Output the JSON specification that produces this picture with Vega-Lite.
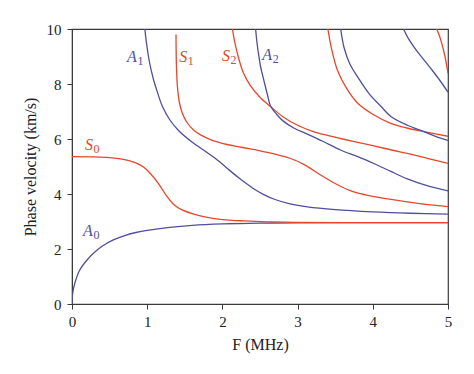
{
  "$schema": "https://vega.github.io/schema/vega-lite/v6.json",
  "width": 376,
  "height": 275,
  "autosize": "none",
  "padding": {"left": 72, "top": 29, "right": 26, "bottom": 70},
  "background": "white",
  "config": {
    "view": {"stroke": "#3a3a3a", "strokeWidth": 1.2},
    "font": "Times New Roman, Liberation Serif, serif",
    "axis": {
      "domainColor": "#3a3a3a",
      "tickColor": "#3a3a3a",
      "labelFont": "Times New Roman, Liberation Serif, serif",
      "labelFontSize": 15,
      "labelColor": "#222",
      "titleFont": "Times New Roman, Liberation Serif, serif",
      "titleFontSize": 16,
      "titleFontWeight": "normal",
      "titleColor": "#222",
      "grid": false
    }
  },
  "datasets": {
    "curves": [
      {"mode": "A0", "type": "A", "F": 0.0, "v": 0.0},
      {"mode": "A0", "type": "A", "F": 0.01, "v": 0.4},
      {"mode": "A0", "type": "A", "F": 0.04, "v": 0.78},
      {"mode": "A0", "type": "A", "F": 0.1, "v": 1.22},
      {"mode": "A0", "type": "A", "F": 0.2, "v": 1.6},
      {"mode": "A0", "type": "A", "F": 0.3, "v": 1.88},
      {"mode": "A0", "type": "A", "F": 0.4, "v": 2.1},
      {"mode": "A0", "type": "A", "F": 0.55, "v": 2.33},
      {"mode": "A0", "type": "A", "F": 0.7, "v": 2.49},
      {"mode": "A0", "type": "A", "F": 0.85, "v": 2.6},
      {"mode": "A0", "type": "A", "F": 1.0, "v": 2.68},
      {"mode": "A0", "type": "A", "F": 1.3, "v": 2.79},
      {"mode": "A0", "type": "A", "F": 1.6, "v": 2.86},
      {"mode": "A0", "type": "A", "F": 2.0, "v": 2.91},
      {"mode": "A0", "type": "A", "F": 2.5, "v": 2.94},
      {"mode": "A0", "type": "A", "F": 3.0, "v": 2.95},
      {"mode": "A0", "type": "A", "F": 4.0, "v": 2.96},
      {"mode": "A0", "type": "A", "F": 5.0, "v": 2.96},

      {"mode": "S0", "type": "S", "F": 0.0, "v": 5.36},
      {"mode": "S0", "type": "S", "F": 0.3, "v": 5.35},
      {"mode": "S0", "type": "S", "F": 0.5, "v": 5.32},
      {"mode": "S0", "type": "S", "F": 0.7, "v": 5.25},
      {"mode": "S0", "type": "S", "F": 0.85, "v": 5.13},
      {"mode": "S0", "type": "S", "F": 0.95, "v": 4.98},
      {"mode": "S0", "type": "S", "F": 1.05, "v": 4.72},
      {"mode": "S0", "type": "S", "F": 1.15, "v": 4.38},
      {"mode": "S0", "type": "S", "F": 1.26, "v": 3.92},
      {"mode": "S0", "type": "S", "F": 1.35, "v": 3.63},
      {"mode": "S0", "type": "S", "F": 1.45, "v": 3.44},
      {"mode": "S0", "type": "S", "F": 1.62, "v": 3.27},
      {"mode": "S0", "type": "S", "F": 1.8, "v": 3.15},
      {"mode": "S0", "type": "S", "F": 2.0, "v": 3.07},
      {"mode": "S0", "type": "S", "F": 2.3, "v": 3.02},
      {"mode": "S0", "type": "S", "F": 2.6, "v": 2.99},
      {"mode": "S0", "type": "S", "F": 3.0, "v": 2.97},
      {"mode": "S0", "type": "S", "F": 4.0, "v": 2.96},
      {"mode": "S0", "type": "S", "F": 5.0, "v": 2.96},

      {"mode": "A1", "type": "A", "F": 0.965, "v": 10.1},
      {"mode": "A1", "type": "A", "F": 0.99, "v": 9.5},
      {"mode": "A1", "type": "A", "F": 1.03, "v": 8.8},
      {"mode": "A1", "type": "A", "F": 1.08, "v": 8.2},
      {"mode": "A1", "type": "A", "F": 1.13, "v": 7.75},
      {"mode": "A1", "type": "A", "F": 1.2, "v": 7.2},
      {"mode": "A1", "type": "A", "F": 1.3, "v": 6.7},
      {"mode": "A1", "type": "A", "F": 1.42, "v": 6.3},
      {"mode": "A1", "type": "A", "F": 1.6, "v": 5.88},
      {"mode": "A1", "type": "A", "F": 1.8, "v": 5.5},
      {"mode": "A1", "type": "A", "F": 1.95, "v": 5.2},
      {"mode": "A1", "type": "A", "F": 2.1, "v": 4.85},
      {"mode": "A1", "type": "A", "F": 2.25, "v": 4.52},
      {"mode": "A1", "type": "A", "F": 2.4, "v": 4.22},
      {"mode": "A1", "type": "A", "F": 2.55, "v": 3.98},
      {"mode": "A1", "type": "A", "F": 2.7, "v": 3.8},
      {"mode": "A1", "type": "A", "F": 2.9, "v": 3.64},
      {"mode": "A1", "type": "A", "F": 3.13, "v": 3.53},
      {"mode": "A1", "type": "A", "F": 3.5, "v": 3.43},
      {"mode": "A1", "type": "A", "F": 4.0, "v": 3.35},
      {"mode": "A1", "type": "A", "F": 4.5, "v": 3.3},
      {"mode": "A1", "type": "A", "F": 5.0, "v": 3.27},

      {"mode": "S1", "type": "S", "F": 1.383, "v": 9.8},
      {"mode": "S1", "type": "S", "F": 1.386, "v": 9.0},
      {"mode": "S1", "type": "S", "F": 1.392, "v": 8.4},
      {"mode": "S1", "type": "S", "F": 1.402, "v": 7.9},
      {"mode": "S1", "type": "S", "F": 1.43, "v": 7.3},
      {"mode": "S1", "type": "S", "F": 1.47, "v": 6.92},
      {"mode": "S1", "type": "S", "F": 1.53, "v": 6.6},
      {"mode": "S1", "type": "S", "F": 1.62, "v": 6.32},
      {"mode": "S1", "type": "S", "F": 1.71, "v": 6.15},
      {"mode": "S1", "type": "S", "F": 1.85, "v": 5.97},
      {"mode": "S1", "type": "S", "F": 2.06, "v": 5.8},
      {"mode": "S1", "type": "S", "F": 2.25, "v": 5.7},
      {"mode": "S1", "type": "S", "F": 2.5, "v": 5.57},
      {"mode": "S1", "type": "S", "F": 2.7, "v": 5.45},
      {"mode": "S1", "type": "S", "F": 2.9, "v": 5.3},
      {"mode": "S1", "type": "S", "F": 3.1, "v": 5.05},
      {"mode": "S1", "type": "S", "F": 3.3, "v": 4.7},
      {"mode": "S1", "type": "S", "F": 3.5, "v": 4.38},
      {"mode": "S1", "type": "S", "F": 3.7, "v": 4.12},
      {"mode": "S1", "type": "S", "F": 3.9, "v": 3.97},
      {"mode": "S1", "type": "S", "F": 4.2, "v": 3.82},
      {"mode": "S1", "type": "S", "F": 4.6, "v": 3.66},
      {"mode": "S1", "type": "S", "F": 5.0, "v": 3.54},

      {"mode": "S2", "type": "S", "F": 2.13, "v": 10.05},
      {"mode": "S2", "type": "S", "F": 2.17, "v": 9.45},
      {"mode": "S2", "type": "S", "F": 2.22, "v": 8.9},
      {"mode": "S2", "type": "S", "F": 2.28, "v": 8.4},
      {"mode": "S2", "type": "S", "F": 2.37, "v": 7.95},
      {"mode": "S2", "type": "S", "F": 2.5, "v": 7.52},
      {"mode": "S2", "type": "S", "F": 2.64, "v": 7.18},
      {"mode": "S2", "type": "S", "F": 2.8, "v": 6.82},
      {"mode": "S2", "type": "S", "F": 3.0, "v": 6.5},
      {"mode": "S2", "type": "S", "F": 3.2, "v": 6.28},
      {"mode": "S2", "type": "S", "F": 3.4, "v": 6.13},
      {"mode": "S2", "type": "S", "F": 3.6, "v": 6.0},
      {"mode": "S2", "type": "S", "F": 3.8, "v": 5.88},
      {"mode": "S2", "type": "S", "F": 4.0, "v": 5.76},
      {"mode": "S2", "type": "S", "F": 4.25, "v": 5.6},
      {"mode": "S2", "type": "S", "F": 4.5, "v": 5.45},
      {"mode": "S2", "type": "S", "F": 4.75, "v": 5.28},
      {"mode": "S2", "type": "S", "F": 5.0, "v": 5.11},

      {"mode": "A2", "type": "A", "F": 2.44, "v": 10.05},
      {"mode": "A2", "type": "A", "F": 2.46, "v": 9.5},
      {"mode": "A2", "type": "A", "F": 2.48, "v": 9.1},
      {"mode": "A2", "type": "A", "F": 2.51, "v": 8.6},
      {"mode": "A2", "type": "A", "F": 2.55, "v": 8.15},
      {"mode": "A2", "type": "A", "F": 2.6, "v": 7.6},
      {"mode": "A2", "type": "A", "F": 2.64, "v": 7.2},
      {"mode": "A2", "type": "A", "F": 2.72, "v": 6.9},
      {"mode": "A2", "type": "A", "F": 2.81, "v": 6.65},
      {"mode": "A2", "type": "A", "F": 2.95, "v": 6.4},
      {"mode": "A2", "type": "A", "F": 3.13, "v": 6.18},
      {"mode": "A2", "type": "A", "F": 3.35, "v": 5.9},
      {"mode": "A2", "type": "A", "F": 3.57, "v": 5.6},
      {"mode": "A2", "type": "A", "F": 3.8, "v": 5.36},
      {"mode": "A2", "type": "A", "F": 4.02, "v": 5.1},
      {"mode": "A2", "type": "A", "F": 4.24, "v": 4.82},
      {"mode": "A2", "type": "A", "F": 4.46, "v": 4.55},
      {"mode": "A2", "type": "A", "F": 4.7, "v": 4.32},
      {"mode": "A2", "type": "A", "F": 5.0, "v": 4.11},

      {"mode": "S3", "type": "S", "F": 3.4, "v": 10.05},
      {"mode": "S3", "type": "S", "F": 3.45, "v": 9.3},
      {"mode": "S3", "type": "S", "F": 3.53, "v": 8.5},
      {"mode": "S3", "type": "S", "F": 3.65, "v": 7.85},
      {"mode": "S3", "type": "S", "F": 3.8, "v": 7.3},
      {"mode": "S3", "type": "S", "F": 4.0, "v": 6.9},
      {"mode": "S3", "type": "S", "F": 4.24, "v": 6.57},
      {"mode": "S3", "type": "S", "F": 4.45, "v": 6.4},
      {"mode": "S3", "type": "S", "F": 4.68, "v": 6.27},
      {"mode": "S3", "type": "S", "F": 5.0, "v": 6.1},

      {"mode": "A3", "type": "A", "F": 3.57, "v": 10.05},
      {"mode": "A3", "type": "A", "F": 3.62, "v": 9.3},
      {"mode": "A3", "type": "A", "F": 3.7, "v": 8.7},
      {"mode": "A3", "type": "A", "F": 3.8, "v": 8.25},
      {"mode": "A3", "type": "A", "F": 3.95, "v": 7.65},
      {"mode": "A3", "type": "A", "F": 4.11, "v": 7.18},
      {"mode": "A3", "type": "A", "F": 4.24, "v": 6.82},
      {"mode": "A3", "type": "A", "F": 4.46, "v": 6.5},
      {"mode": "A3", "type": "A", "F": 4.68, "v": 6.27},
      {"mode": "A3", "type": "A", "F": 4.85, "v": 6.08},
      {"mode": "A3", "type": "A", "F": 5.0, "v": 5.95},

      {"mode": "A4", "type": "A", "F": 4.4, "v": 10.05},
      {"mode": "A4", "type": "A", "F": 4.48, "v": 9.62},
      {"mode": "A4", "type": "A", "F": 4.58, "v": 9.22},
      {"mode": "A4", "type": "A", "F": 4.68, "v": 8.88},
      {"mode": "A4", "type": "A", "F": 4.79, "v": 8.5},
      {"mode": "A4", "type": "A", "F": 4.9, "v": 8.1},
      {"mode": "A4", "type": "A", "F": 5.0, "v": 7.7},

      {"mode": "S4", "type": "S", "F": 4.84, "v": 10.05},
      {"mode": "S4", "type": "S", "F": 4.88, "v": 9.8},
      {"mode": "S4", "type": "S", "F": 4.92, "v": 9.45},
      {"mode": "S4", "type": "S", "F": 4.96, "v": 9.0},
      {"mode": "S4", "type": "S", "F": 5.0, "v": 8.39}
    ],
    "labels": [
      {"letter": "S", "sub": "0", "type": "S", "F": 0.173, "v": 5.6},
      {"letter": "A", "sub": "0", "type": "A", "F": 0.147, "v": 2.47},
      {"letter": "A", "sub": "1", "type": "A", "F": 0.733, "v": 8.8},
      {"letter": "S", "sub": "1", "type": "S", "F": 1.427, "v": 8.81},
      {"letter": "S", "sub": "2", "type": "S", "F": 1.996, "v": 8.85},
      {"letter": "A", "sub": "2", "type": "A", "F": 2.53, "v": 8.87}
    ]
  },
  "layer": [
    {
      "data": {"name": "curves"},
      "mark": {"type": "line", "strokeWidth": 1.3, "interpolate": "catmull-rom", "clip": true},
      "encoding": {
        "x": {
          "field": "F", "type": "quantitative",
          "scale": {"domain": [0, 5], "nice": false},
          "axis": {
            "title": "F (MHz)",
            "values": [0, 0.5, 1, 1.5, 2, 2.5, 3, 3.5, 4, 4.5, 5],
            "labelExpr": "datum.value % 1 === 0 ? format(datum.value, 'd') : ''",
            "tickSize": {"condition": {"test": "datum.value % 1 === 0", "value": 5}, "value": 3},
            "labelPadding": 5,
            "titlePadding": 7,
            "labelFlush": false
          }
        },
        "y": {
          "field": "v", "type": "quantitative",
          "scale": {"domain": [0, 10], "nice": false},
          "axis": {
            "title": "Phase velocity (km/s)",
            "values": [0, 1, 2, 3, 4, 5, 6, 7, 8, 9, 10],
            "labelExpr": "datum.value % 2 === 0 ? format(datum.value, 'd') : ''",
            "tickSize": {"condition": {"test": "datum.value % 2 === 0", "value": 5}, "value": 3},
            "labelPadding": 6,
            "titlePadding": 8,
            "labelFlush": false
          }
        },
        "detail": {"field": "mode", "type": "nominal"},
        "color": {
          "field": "type", "type": "nominal",
          "scale": {"domain": ["A", "S"], "range": ["#4f4f9b", "#e8462c"]},
          "legend": null
        }
      }
    },
    {
      "data": {"name": "labels"},
      "mark": {"type": "text", "align": "left", "baseline": "alphabetic", "font": "Times New Roman, Liberation Serif, serif", "fontStyle": "italic", "fontSize": 16},
      "encoding": {
        "x": {"field": "F", "type": "quantitative"},
        "y": {"field": "v", "type": "quantitative"},
        "text": {"field": "letter"},
        "color": {"field": "type", "type": "nominal", "legend": null}
      }
    },
    {
      "data": {"name": "labels"},
      "transform": [{"filter": "datum.type === 'A'"}],
      "mark": {"type": "text", "align": "left", "baseline": "alphabetic", "font": "Times New Roman, Liberation Serif, serif", "fontSize": 12, "dx": 10.5, "dy": 3},
      "encoding": {
        "x": {"field": "F", "type": "quantitative"},
        "y": {"field": "v", "type": "quantitative"},
        "text": {"field": "sub"},
        "color": {"field": "type", "type": "nominal", "legend": null}
      }
    },
    {
      "data": {"name": "labels"},
      "transform": [{"filter": "datum.type === 'S'"}],
      "mark": {"type": "text", "align": "left", "baseline": "alphabetic", "font": "Times New Roman, Liberation Serif, serif", "fontSize": 12, "dx": 8.5, "dy": 3},
      "encoding": {
        "x": {"field": "F", "type": "quantitative"},
        "y": {"field": "v", "type": "quantitative"},
        "text": {"field": "sub"},
        "color": {"field": "type", "type": "nominal", "legend": null}
      }
    }
  ]
}
